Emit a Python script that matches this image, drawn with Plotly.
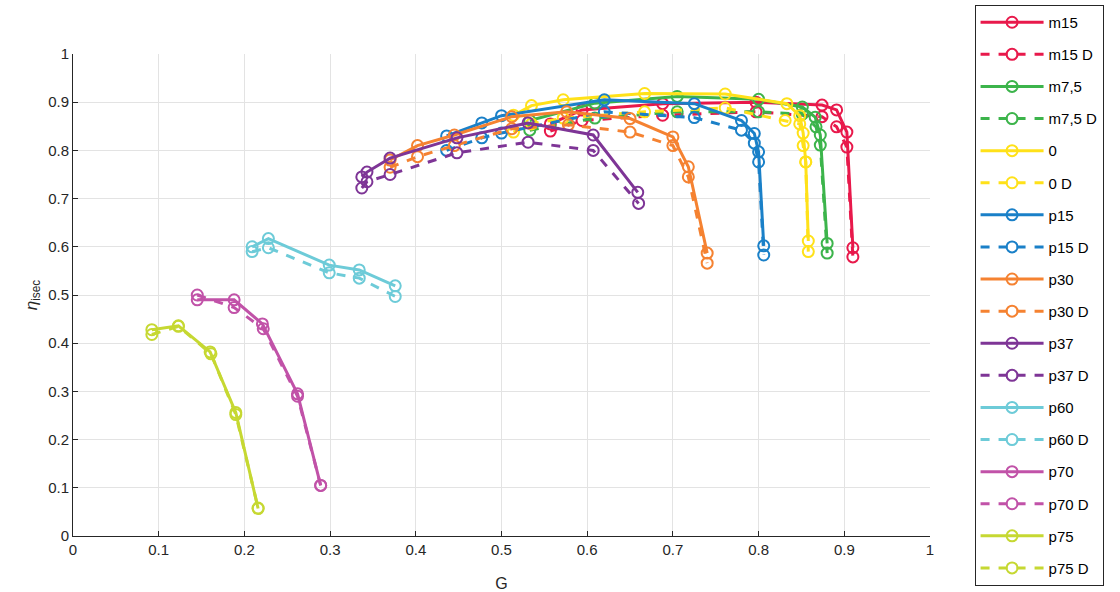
import plotly.graph_objects as go

names = ["m15", "m15 D", "m7,5", "m7,5 D", "0", "0 D", "p15", "p15 D",
         "p30", "p30 D", "p37", "p37 D", "p60", "p60 D", "p70", "p70 D", "p75", "p75 D"]

colors = ["#e8194b", "#3cb44b", "#ffe119", "#1a80c8", "#f58231",
          "#7e3596", "#6dcbd8", "#c152a8", "#c6d832"]

m15_x = [0.557, 0.594, 0.688, 0.797, 0.874, 0.891, 0.903, 0.910]
m15_y = [0.855, 0.884, 0.897, 0.900, 0.894, 0.884, 0.838, 0.598]
m15D_x = [0.557, 0.594, 0.688, 0.797, 0.874, 0.891, 0.903, 0.910]
m15D_y = [0.840, 0.862, 0.873, 0.880, 0.870, 0.849, 0.807, 0.579]

m75_x = [0.533, 0.609, 0.705, 0.800, 0.851, 0.866, 0.872, 0.880]
m75_y = [0.862, 0.898, 0.912, 0.906, 0.890, 0.869, 0.832, 0.607]
m75D_x = [0.533, 0.609, 0.705, 0.800, 0.851, 0.867, 0.872, 0.880]
m75D_y = [0.842, 0.867, 0.880, 0.880, 0.875, 0.849, 0.811, 0.587]

z_x = [0.514, 0.535, 0.572, 0.667, 0.761, 0.833, 0.848, 0.852, 0.855, 0.858]
z_y = [0.873, 0.893, 0.905, 0.918, 0.917, 0.897, 0.872, 0.836, 0.776, 0.612]
zD_x = [0.514, 0.535, 0.572, 0.667, 0.761, 0.831, 0.848, 0.852, 0.855, 0.858]
zD_y = [0.838, 0.855, 0.867, 0.880, 0.888, 0.862, 0.855, 0.810, 0.776, 0.590]

p15_x = [0.436, 0.477, 0.500, 0.620, 0.725, 0.780, 0.795, 0.800, 0.806]
p15_y = [0.830, 0.857, 0.872, 0.905, 0.897, 0.862, 0.835, 0.797, 0.602]
p15D_x = [0.436, 0.477, 0.500, 0.620, 0.725, 0.780, 0.795, 0.800, 0.806]
p15D_y = [0.800, 0.826, 0.836, 0.880, 0.868, 0.842, 0.815, 0.776, 0.583]

p30_x = [0.370, 0.402, 0.445, 0.512, 0.576, 0.650, 0.700, 0.718, 0.740]
p30_y = [0.780, 0.810, 0.832, 0.870, 0.880, 0.866, 0.828, 0.766, 0.587]
p30D_x = [0.370, 0.402, 0.445, 0.512, 0.578, 0.650, 0.700, 0.718, 0.740]
p30D_y = [0.765, 0.787, 0.810, 0.845, 0.853, 0.838, 0.810, 0.745, 0.566]

p37_x = [0.337, 0.343, 0.370, 0.448, 0.531, 0.607, 0.659]
p37_y = [0.745, 0.755, 0.784, 0.826, 0.857, 0.832, 0.713]
p37D_x = [0.337, 0.343, 0.370, 0.448, 0.531, 0.607, 0.660]
p37D_y = [0.722, 0.735, 0.750, 0.795, 0.817, 0.800, 0.690]

p60_x = [0.209, 0.228, 0.299, 0.334, 0.376]
p60_y = [0.600, 0.617, 0.562, 0.552, 0.519]
p60D_x = [0.209, 0.228, 0.299, 0.334, 0.376]
p60D_y = [0.590, 0.598, 0.546, 0.535, 0.497]

p70_x = [0.145, 0.188, 0.221, 0.262, 0.289]
p70_y = [0.490, 0.490, 0.440, 0.295, 0.105]
p70D_x = [0.145, 0.188, 0.222, 0.262, 0.289]
p70D_y = [0.500, 0.474, 0.430, 0.290, 0.105]

p75_x = [0.092, 0.123, 0.160, 0.190, 0.216]
p75_y = [0.428, 0.436, 0.382, 0.256, 0.057]
p75D_x = [0.092, 0.123, 0.161, 0.190, 0.216]
p75D_y = [0.418, 0.435, 0.378, 0.252, 0.058]

xs = [m15_x, m15D_x, m75_x, m75D_x, z_x, zD_x, p15_x, p15D_x, p30_x, p30D_x,
      p37_x, p37D_x, p60_x, p60D_x, p70_x, p70D_x, p75_x, p75D_x]
ys = [m15_y, m15D_y, m75_y, m75D_y, z_y, zD_y, p15_y, p15D_y, p30_y, p30D_y,
      p37_y, p37D_y, p60_y, p60D_y, p70_y, p70D_y, p75_y, p75D_y]

x_ticks = [i / 10 for i in range(11)]
x_labels = ["0", "0.1", "0.2", "0.3", "0.4", "0.5", "0.6", "0.7", "0.8", "0.9", "1"]

fig = go.Figure()
for i, name in enumerate(names):
    c = colors[i // 2]
    dashed = i % 2 == 1
    fig.add_trace(go.Scatter(
        x=xs[i], y=ys[i], name=name, mode="lines+markers",
        legendgroup=name,
        line=dict(color=c, width=3, dash="dash" if dashed else "solid"),
        marker=dict(symbol="circle-open", size=11, color=c, line=dict(width=2, color=c)),
    ))

axis_common = dict(
    range=[0, 1], tickvals=x_ticks, ticktext=x_labels,
    showgrid=True, gridcolor="#e3e3e3", gridwidth=1,
    showline=True, linecolor="#262626", linewidth=1,
    ticks="inside", ticklen=5, tickcolor="#262626",
    zeroline=False, mirror=False, automargin=False,
    tickfont=dict(family="Liberation Sans, Arial", size=15, color="#262626"),
)

fig.update_layout(
    width=1120, height=592,
    paper_bgcolor="white", plot_bgcolor="white",
    margin=dict(l=73, r=190, t=54, b=56, autoexpand=False),
    xaxis=dict(axis_common, title=dict(text="G", font=dict(family="Liberation Sans, Arial", size=16, color="#262626"), standoff=20)),
    yaxis=dict(axis_common, title=dict(text="<i>η</i><sub>isec</sub>", font=dict(family="Liberation Sans, Arial", size=17, color="#262626"), standoff=6)),
    showlegend=True,
    legend=dict(
        x=1.052, xanchor="left", y=1.1017, yanchor="top",
        bordercolor="#262626", borderwidth=1, bgcolor="white",
        font=dict(family="Liberation Sans, Arial", size=15, color="#000000"),
        tracegroupgap=9.6, itemwidth=63, maxheight=1.0,
    ),
)

fig.write_html("out.html", post_script="document.body.style.margin='0';",
               config={"displayModeBar": False})
